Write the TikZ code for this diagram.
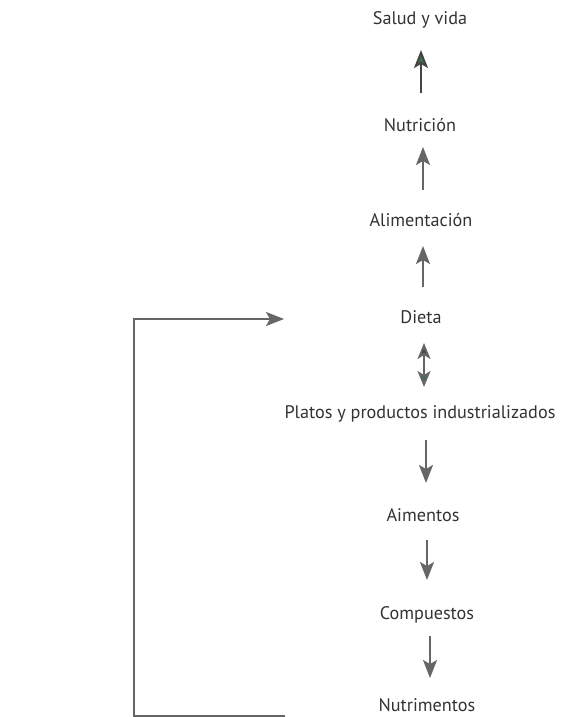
\documentclass[tikz,border=0pt]{standalone}
\usepackage{fontspec}
\setmainfont{PT Sans}
\usetikzlibrary{arrows.meta}
\definecolor{txt}{HTML}{333333}
\definecolor{arrc}{HTML}{666666}
\definecolor{darkarr}{HTML}{444444}
\definecolor{greenhead}{HTML}{3F6E4A}
\tikzset{
  lbl/.style={text=txt,font=\fontsize{18.2}{20}\selectfont,inner sep=0pt,anchor=center},
  tip/.style={Stealth[length=18pt,width=14pt,inset=4pt,#1]},
  arr/.style={draw=arrc,line width=2pt,-{Stealth[length=18pt,width=14pt,inset=4pt]}},
  fb/.style={draw=arrc,line width=2pt}}
\begin{document}
\begin{tikzpicture}[x=1pt,y=-1pt]
\useasboundingbox (0,0) rectangle (569,717);
\node[lbl] (salud) at (420,20) {Salud y vida};
\node[lbl] (nutri) at (420,125) {Nutrición};
\node[lbl] (alim) at (421,220) {Alimentación};
\node[lbl] (dieta) at (421,317) {Dieta};
\node[lbl] (platos) at (420,414) {Platos y productos industrializados};
\node[lbl] (aim) at (423,515) {Aimentos};
\node[lbl] (comp) at (427,615) {Compuestos};
\node[lbl] (nutrim) at (427,705) {Nutrimentos};
\draw[draw=darkarr,line width=2pt,-{Stealth[length=18pt,width=14pt,inset=4pt,fill=greenhead]}] ([xshift=1pt,yshift=32pt]nutri.center) -- ([xshift=1pt,yshift=-30pt]salud.center);
\draw[arr] ([xshift=2pt,yshift=30pt]alim.center) -- ([xshift=3pt,yshift=-22pt]nutri.center);
\draw[arr] ([xshift=2pt,yshift=30pt]dieta.center) -- ([xshift=2pt,yshift=-26pt]alim.center);
\draw[draw=arrc,line width=2pt,{Stealth[length=16pt,width=13pt,inset=4pt,fill=darkarr]}-{Stealth[length=16pt,width=13pt,inset=4pt,fill=greenhead]}] ([xshift=3pt,yshift=-26pt]dieta.center) -- ([xshift=4pt,yshift=27pt]platos.center);
\draw[arr] ([xshift=6pt,yshift=-26pt]platos.center) -- ([xshift=3pt,yshift=32pt]aim.center);
\draw[arr] ([xshift=4pt,yshift=-25pt]aim.center) -- ([xshift=0pt,yshift=35pt]comp.center);
\draw[arr] ([xshift=3pt,yshift=-21pt]comp.center) -- ([xshift=3pt,yshift=27pt]nutrim.center);
\coordinate (fbstart) at (285,716);
\coordinate (fbend) at (284,319);
\draw[fb,-{Stealth[length=18pt,width=14pt,inset=4pt]}] (fbstart) -| (134,319) -- (fbend);
\end{tikzpicture}
\end{document}
